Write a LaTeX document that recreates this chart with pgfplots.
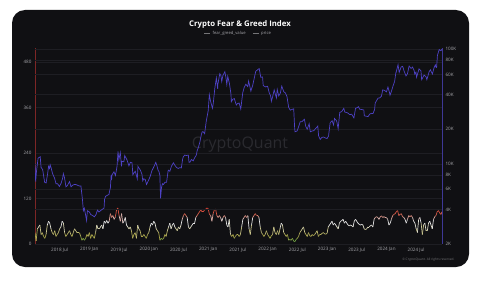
\documentclass[border=0pt]{standalone}
\usepackage{pgfplots}
\pgfplotsset{compat=1.18}
\usepackage{fontspec}
\setmainfont{Open Sans}
\definecolor{card}{RGB}{16,16,19}
\definecolor{pricec}{RGB}{78,66,198}
\definecolor{tickc}{RGB}{165,165,170}
\definecolor{gridc}{RGB}{30,30,35}
\definecolor{leftax}{RGB}{125,38,38}
\definecolor{rightax}{RGB}{62,56,150}
\definecolor{wm}{RGB}{42,42,47}
\begin{document}
\begin{tikzpicture}[x=1bp,y=1bp]
\useasboundingbox (0,0) rectangle (480,284);
\fill[white] (0,0) rectangle (480,284);
\fill[card, rounded corners=13bp] (12,17) rectangle (469,274);
\node[wm, font=\fontsize{16}{16}\selectfont] at (240,139) {CryptoQuant};
\node[white, font=\fontsize{7.8}{8}\selectfont\bfseries] at (240,260) {Crypto Fear \& Greed Index};
\node[tickc!70!black, font=\fontsize{3.2}{3.5}\selectfont, anchor=east] at (458,24) {© CryptoQuant. All rights reserved.};
\begin{axis}[
  at={(35bp,40bp)}, anchor=south west, scale only axis,
  width=407bp, height=196bp,
  xmin=2018.085, xmax=2024.935, ymin=0, ymax=517,
  axis y line*=left, axis x line*=bottom,
  y axis line style={leftax, line width=0.7pt, -},
  x axis line style={draw=none},
  xtick={2018.5,2019,2019.5,2020,2020.5,2021,2021.5,2022,2022.5,2023,2023.5,2024,2024.5},
  xticklabels={2018 Jul,2019 Jan,2019 Jul,2020 Jan,2020 Jul,2021 Jan,2021 Jul,2022 Jan,2022 Jul,2023 Jan,2023 Jul,2024 Jan,2024 Jul},
  ytick={0,120,240,360,480},
  major tick length=0pt,
  ymajorgrids, grid style={gridc, line width=0.4pt},
  /pgf/number format/assume math mode=true,
  ticklabel style={font=\fontsize{4.6}{5}\selectfont, text=tickc},
  colormap={fg}{rgb255(0cm)=(60,150,60) rgb255(20cm)=(170,165,70) rgb255(38cm)=(205,200,145) rgb255(50cm)=(230,230,230) rgb255(63cm)=(230,230,230) rgb255(78cm)=(215,95,75) rgb255(100cm)=(220,55,45)},
  point meta min=0, point meta max=100,
  legend style={at={(0.5,1)}, anchor=south, yshift=8bp, draw=none, fill=none,
    font=\fontsize{4.2}{4.5}\selectfont, text=tickc, legend columns=2,
    /tikz/every even column/.append style={column sep=5bp}},
  legend image code/.code={\draw[#1] (0bp,0bp) -- (6bp,0bp);},
]
\addlegendimage{tickc!70!black, line width=0.5pt}
\addlegendentry{fear\_greed\_value}
\addlegendimage{tickc!70!black, line width=0.5pt}
\addlegendentry{price}
\addplot[mesh, point meta=y, line width=0.7pt, forget plot] coordinates {
(2018.085,30)(2018.104,8)(2018.125,40)(2018.146,45)(2018.167,50)(2018.188,25)(2018.208,30)(2018.229,20)
(2018.250,15)(2018.271,25)(2018.292,50)(2018.313,60)(2018.333,55)(2018.354,40)(2018.375,30)(2018.396,25)
(2018.417,35)(2018.438,20)(2018.458,25)(2018.479,30)(2018.500,40)(2018.521,45)(2018.542,60)(2018.563,55)
(2018.583,30)(2018.604,20)(2018.625,25)(2018.646,30)(2018.667,35)(2018.688,25)(2018.708,20)(2018.729,30)
(2018.750,40)(2018.771,35)(2018.792,30)(2018.813,30)(2018.833,30)(2018.854,20)(2018.875,10)(2018.896,15)
(2018.917,10)(2018.938,15)(2018.958,25)(2018.979,20)
(2019.000,30)(2019.021,15)(2019.042,25)(2019.063,20)(2019.083,15)(2019.104,30)(2019.125,50)(2019.146,40)
(2019.167,40)(2019.188,45)(2019.208,50)(2019.229,40)(2019.250,60)(2019.271,55)(2019.292,62)(2019.313,55)
(2019.333,60)(2019.354,80)(2019.375,70)(2019.396,75)(2019.417,65)(2019.438,72)(2019.458,90)(2019.479,95)
(2019.500,75)(2019.521,60)(2019.542,80)(2019.563,55)(2019.583,60)(2019.604,70)(2019.625,50)(2019.646,45)
(2019.667,40)(2019.688,45)(2019.708,35)(2019.729,15)(2019.750,25)(2019.771,30)(2019.792,15)(2019.813,50)
(2019.833,40)(2019.854,35)(2019.875,20)(2019.896,20)(2019.917,25)(2019.938,20)(2019.958,15)(2019.979,25)
(2020.000,30)(2020.021,45)(2020.042,55)(2020.063,50)(2020.083,60)(2020.104,55)(2020.125,40)(2020.146,35)
(2020.167,30)(2020.188,10)(2020.208,15)(2020.229,12)(2020.250,15)(2020.271,25)(2020.292,20)(2020.313,35)
(2020.333,45)(2020.354,55)(2020.375,40)(2020.396,50)(2020.417,55)(2020.438,45)(2020.458,40)(2020.479,35)
(2020.500,45)(2020.521,40)(2020.542,50)(2020.563,65)(2020.583,75)(2020.604,80)(2020.625,75)(2020.646,70)
(2020.667,45)(2020.688,40)(2020.708,45)(2020.729,50)(2020.750,55)(2020.771,55)(2020.792,70)(2020.813,75)
(2020.833,80)(2020.854,85)(2020.875,90)(2020.896,85)(2020.917,85)(2020.938,90)(2020.958,92)(2020.979,95)
(2021.000,93)(2021.021,78)(2021.042,75)(2021.063,60)(2021.083,80)(2021.104,90)(2021.125,92)(2021.146,75)
(2021.167,70)(2021.188,75)(2021.208,70)(2021.229,60)(2021.250,70)(2021.271,75)(2021.292,70)(2021.313,50)
(2021.333,45)(2021.354,65)(2021.375,25)(2021.396,20)(2021.417,25)(2021.438,15)(2021.458,20)(2021.479,25)
(2021.500,25)(2021.521,20)(2021.542,25)(2021.563,45)(2021.583,65)(2021.604,70)(2021.625,75)(2021.646,70)
(2021.667,75)(2021.688,40)(2021.708,25)(2021.729,50)(2021.750,70)(2021.771,75)(2021.792,80)(2021.813,75)
(2021.833,75)(2021.854,70)(2021.875,45)(2021.896,30)(2021.917,25)(2021.938,20)(2021.958,25)(2021.979,35)
(2022.000,25)(2022.021,20)(2022.042,15)(2022.063,22)(2022.083,25)(2022.104,45)(2022.125,30)(2022.146,25)
(2022.167,35)(2022.188,25)(2022.208,40)(2022.229,55)(2022.250,50)(2022.271,30)(2022.292,25)(2022.313,20)
(2022.333,25)(2022.354,10)(2022.375,12)(2022.396,10)(2022.417,15)(2022.438,8)(2022.458,6)(2022.479,12)
(2022.500,15)(2022.521,20)(2022.542,30)(2022.563,35)(2022.583,40)(2022.604,45)(2022.625,30)(2022.646,25)
(2022.667,20)(2022.688,30)(2022.708,22)(2022.729,20)(2022.750,25)(2022.771,22)(2022.792,25)(2022.813,30)
(2022.833,35)(2022.854,20)(2022.875,25)(2022.896,25)(2022.917,28)(2022.938,30)(2022.958,27)(2022.979,26)
(2023.000,28)(2023.021,45)(2023.042,50)(2023.063,55)(2023.083,60)(2023.104,50)(2023.125,55)(2023.146,50)
(2023.167,45)(2023.188,40)(2023.208,55)(2023.229,60)(2023.250,62)(2023.271,65)(2023.292,55)(2023.313,60)
(2023.333,55)(2023.354,50)(2023.375,48)(2023.396,50)(2023.417,48)(2023.438,45)(2023.458,60)(2023.479,65)
(2023.500,60)(2023.521,55)(2023.542,52)(2023.563,50)(2023.583,52)(2023.604,50)(2023.625,40)(2023.646,38)
(2023.667,40)(2023.688,45)(2023.708,45)(2023.729,48)(2023.750,50)(2023.771,45)(2023.792,65)(2023.813,70)
(2023.833,72)(2023.854,70)(2023.875,65)(2023.896,72)(2023.917,74)(2023.938,70)(2023.958,72)(2023.979,70)
(2024.000,70)(2024.021,65)(2024.042,50)(2024.063,55)(2024.083,65)(2024.104,75)(2024.125,78)(2024.146,80)
(2024.167,85)(2024.188,88)(2024.208,75)(2024.229,78)(2024.250,80)(2024.271,72)(2024.292,70)(2024.313,65)
(2024.333,55)(2024.354,65)(2024.375,75)(2024.396,72)(2024.417,75)(2024.438,70)(2024.458,60)(2024.479,55)
(2024.500,40)(2024.521,30)(2024.542,65)(2024.563,70)(2024.583,55)(2024.604,25)(2024.625,50)(2024.646,55)
(2024.667,35)(2024.688,35)(2024.708,55)(2024.729,60)(2024.750,50)(2024.771,40)(2024.792,65)(2024.813,72)
(2024.833,75)(2024.854,85)(2024.875,88)(2024.896,82)(2024.917,78)(2024.935,85)
};
\end{axis}
\begin{axis}[
  at={(35bp,40bp)}, anchor=south west, scale only axis,
  width=407bp, height=196bp,
  xmin=2018.085, xmax=2024.935,
  ymode=log, ymin=2000, ymax=102000,
  axis y line*=right, axis x line=none,
  y axis line style={rightax, line width=0.7pt, -},
  ytick={2000,4000,6000,8000,10000,20000,40000,60000,80000,100000},
  yticklabels={2K,4K,6K,8K,10K,20K,40K,60K,80K,100K},
  major tick length=0pt, minor tick length=0pt,
  ymajorgrids, grid style={gridc, line width=0.4pt},
  ticklabel style={font=\fontsize{4.6}{5}\selectfont, text=tickc},
]
\addplot[pricec, line width=0.7pt] coordinates {
(2018.085,10100)(2018.096,7000)(2018.110,8600)(2018.137,11200)(2018.173,11500)(2018.187,9300)(2018.214,8900)
(2018.247,6900)(2018.272,6800)(2018.299,8300)(2018.313,9500)(2018.329,9100)(2018.340,9800)(2018.354,9300)
(2018.381,8200)(2018.414,7500)(2018.439,6700)(2018.466,6700)(2018.496,6350)(2018.521,6700)(2018.548,7400)
(2018.562,8200)(2018.581,7600)(2018.606,6300)(2018.633,6500)(2018.666,7000)(2018.691,6300)(2018.718,6500)
(2018.748,6600)(2018.773,6600)(2018.800,6500)(2018.833,6400)(2018.858,6400)(2018.885,4800)(2018.899,3900)
(2018.915,4100)(2018.940,3500)(2018.953,3200)(2018.967,3900)
(2019.000,3800)(2019.025,3600)(2019.052,3550)(2019.085,3450)(2019.110,3600)(2019.137,3950)(2019.162,3800)
(2019.187,3900)(2019.214,4000)(2019.247,4100)(2019.256,4900)(2019.272,5200)(2019.299,5300)(2019.329,5400)
(2019.354,6200)(2019.367,8000)(2019.373,7200)(2019.381,8000)(2019.414,8500)(2019.439,7900)(2019.466,9500)
(2019.482,12800)(2019.496,10800)(2019.521,12500)(2019.540,9500)(2019.548,10500)(2019.581,10400)(2019.595,11800)
(2019.633,10800)(2019.666,9600)(2019.691,10300)(2019.718,10200)(2019.732,8000)(2019.748,8300)(2019.773,8600)
(2019.807,7400)(2019.818,9500)(2019.833,9200)(2019.858,8800)(2019.885,8100)(2019.899,7100)(2019.915,7400)
(2019.940,7300)(2019.962,6600)(2019.997,7200)
(2020.025,7800)(2020.052,8700)(2020.085,9400)(2020.118,10300)(2020.137,9600)(2020.159,8700)(2020.170,8600)
(2020.187,7900)(2020.198,5000)(2020.214,6200)(2020.230,6700)(2020.247,6600)(2020.272,6900)(2020.299,6900)
(2020.326,8700)(2020.329,8800)(2020.354,8600)(2020.381,9500)(2020.414,10200)(2020.439,9700)(2020.466,9300)
(2020.496,9100)(2020.521,9250)(2020.548,9200)(2020.570,11000)(2020.581,11500)(2020.606,11900)(2020.633,11800)
(2020.666,11900)(2020.677,10300)(2020.691,10300)(2020.718,10900)(2020.748,10600)(2020.773,11300)(2020.800,11900)
(2020.814,13000)(2020.833,13800)(2020.858,15300)(2020.885,18000)(2020.899,19000)(2020.915,19000)(2020.940,18300)
(2020.967,23500)(2020.989,27000)
(2021.000,29000)(2021.019,40000)(2021.040,35000)(2021.071,30500)(2021.085,33500)(2021.110,44800)(2021.137,56000)
(2021.159,45000)(2021.162,49000)(2021.195,61000)(2021.214,58500)(2021.228,52000)(2021.247,58700)(2021.280,63500)
(2021.299,56000)(2021.313,49000)(2021.329,57800)(2021.359,49500)(2021.384,40000)(2021.389,34700)(2021.414,36500)
(2021.439,37000)(2021.473,32500)(2021.496,33500)(2021.521,33800)(2021.548,30000)(2021.581,41500)(2021.606,46300)
(2021.633,49300)(2021.666,47000)(2021.680,52600)(2021.718,43000)(2021.748,48000)(2021.773,55000)(2021.800,64000)
(2021.858,67500)(2021.885,56700)(2021.915,57000)(2021.926,48000)(2021.940,47500)(2021.967,46700)
(2022.000,47300)(2022.025,41900)(2022.052,38700)(2022.063,35000)(2022.085,38500)(2022.110,44000)(2022.148,37500)
(2022.162,44400)(2022.187,39000)(2022.214,41200)(2022.238,47500)(2022.272,42400)(2022.299,41400)(2022.326,38500)
(2022.354,31000)(2022.381,29300)(2022.414,29800)(2022.439,30100)(2022.455,20500)(2022.461,19000)(2022.496,19300)
(2022.521,21000)(2022.548,23200)(2022.581,23300)(2022.619,24400)(2022.641,21200)(2022.666,20000)(2022.699,22300)
(2022.718,19000)(2022.748,19300)(2022.773,19400)(2022.822,20600)(2022.844,21300)(2022.858,17500)(2022.885,16300)
(2022.915,17000)(2022.940,17100)(2022.967,16800)
(2023.000,16600)(2023.025,17400)(2023.052,22700)(2023.085,23700)(2023.110,21800)(2023.126,24800)(2023.162,23600)
(2023.187,20200)(2023.214,28000)(2023.247,28500)(2023.282,30400)(2023.299,28200)(2023.329,28000)(2023.354,27600)
(2023.381,26800)(2023.414,27000)(2023.452,25100)(2023.480,30500)(2023.496,30600)(2023.530,31400)(2023.548,29900)
(2023.581,29700)(2023.619,29400)(2023.627,26200)(2023.666,25900)(2023.691,25800)(2023.718,27100)(2023.748,27500)
(2023.773,27400)(2023.800,29600)(2023.811,33900)(2023.833,35400)(2023.858,37300)(2023.885,37500)(2023.915,38700)
(2023.937,44000)(2023.967,43600)
(2024.000,42300)(2024.025,46600)(2024.052,41600)(2024.060,39500)(2024.085,43000)(2024.110,47500)(2024.137,52000)
(2024.159,62500)(2024.162,62400)(2024.195,73000)(2024.214,62500)(2024.247,69700)(2024.272,70600)(2024.299,63800)
(2024.329,58200)(2024.354,61000)(2024.381,71000)(2024.414,67700)(2024.439,69600)(2024.466,64800)(2024.477,60300)
(2024.496,62800)(2024.507,56700)(2024.548,67100)(2024.581,64600)(2024.592,54000)(2024.633,59300)(2024.666,57300)
(2024.680,54000)(2024.718,63400)(2024.740,65800)(2024.773,60500)(2024.800,68400)(2024.822,72700)(2024.833,69500)
(2024.844,69000)(2024.858,88000)(2024.888,99000)(2024.915,96500)(2024.926,98000)(2024.935,100000)
};
\end{axis}
\end{tikzpicture}
\end{document}
